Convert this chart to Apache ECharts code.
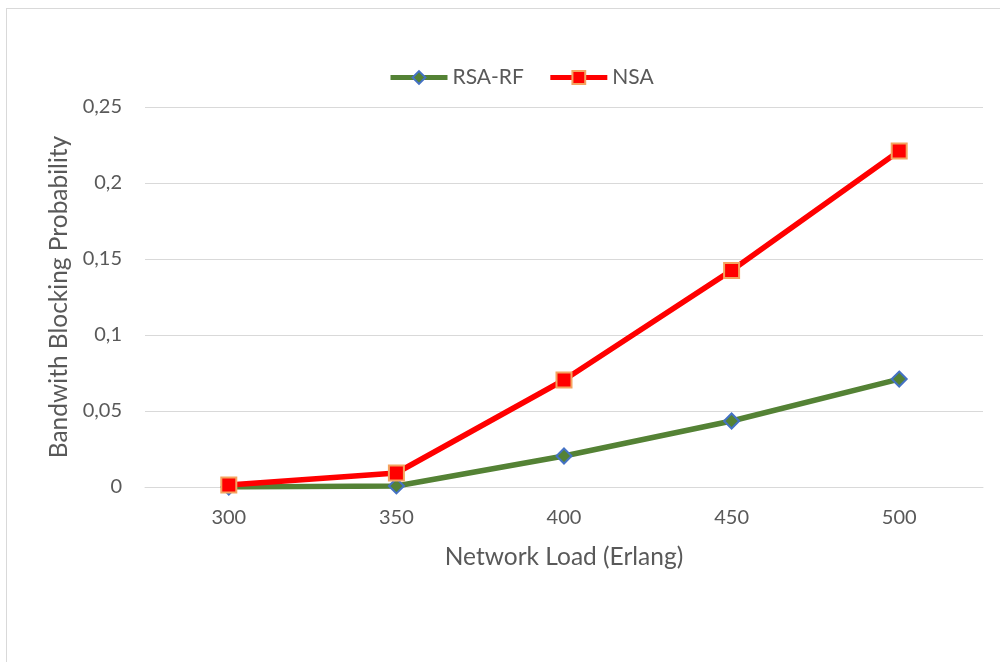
<!DOCTYPE html>
<html><head><meta charset="utf-8">
<script src="https://cdn.jsdelivr.net/npm/echarts@6/dist/echarts.min.js"></script>
<style>html,body{margin:0;padding:0;background:#fff}#frame{position:absolute;left:6px;top:8px;width:1100px;height:700px;border:1px solid #d9d9d9;box-sizing:border-box}#c{position:absolute;left:0;top:0;width:1000px;height:662px}</style>
</head><body><div id="frame"></div><div id="c"></div>
<script>
const categories = ['300', '350', '400', '450', '500'];
const rsaRf = [0, 0.0007, 0.0204, 0.0434, 0.071];
const nsa = [0.0013, 0.0092, 0.0704, 0.1425, 0.221];
const yTicks = [0, 0.05, 0.1, 0.15, 0.2, 0.25];

const chart = echarts.init(document.getElementById('c'));
const font = 'Lato, "Open Sans", sans-serif';
chart.setOption({
  animation: false,
  textStyle: {fontFamily: font},
  legend: {
    top: 62, left: 383, itemWidth: 57, itemHeight: 16, itemGap: 24,
    lineStyle: {width: 5},
    textStyle: {fontSize: 21, color: '#595959', fontFamily: font},
    data: ['RSA-RF', 'NSA']
  },
  grid: {left: 145, right: 17, top: 107, bottom: 175, containLabel: false},
  xAxis: {
    type: 'category', data: categories, boundaryGap: true,
    name: 'Network Load (Erlang)', nameLocation: 'middle', nameGap: 58,
    nameTextStyle: {fontSize: 24.5, color: '#595959', fontFamily: font},
    axisLine: {lineStyle: {color: '#d9d9d9', width: 1}},
    axisTick: {show: false},
    axisLabel: {fontSize: 20, color: '#595959', margin: 21, fontFamily: font}
  },
  yAxis: {
    type: 'value', min: 0, max: yTicks[yTicks.length - 1], interval: 0.05,
    name: 'Bandwith Blocking Probability', nameLocation: 'middle', nameGap: 73, nameRotate: 90,
    nameTextStyle: {fontSize: 24.5, color: '#595959', fontFamily: font},
    axisLine: {show: false}, axisTick: {show: false},
    splitLine: {lineStyle: {color: '#d9d9d9', width: 1}},
    axisLabel: {fontSize: 20, color: '#595959', margin: 23, fontFamily: font,
      formatter: v => String(+v.toFixed(2)).replace('.', ',')}
  },
  series: [
    {name: 'RSA-RF', type: 'line', data: rsaRf, symbol: 'diamond', symbolSize: 15,
     lineStyle: {color: '#548235', width: 5.5},
     itemStyle: {color: '#548235', borderColor: '#4472C4', borderWidth: 2}, z: 2},
    {name: 'NSA', type: 'line', data: nsa, symbol: 'rect', symbolSize: 15,
     lineStyle: {color: '#FF0000', width: 5.5},
     itemStyle: {color: '#FF0000', borderColor: '#F4A460', borderWidth: 2}, z: 3}
  ]
});
</script></body></html>
